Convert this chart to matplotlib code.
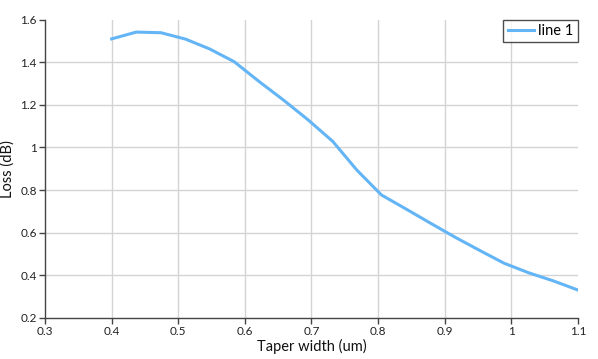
import matplotlib
matplotlib.use("Agg")
import matplotlib.pyplot as plt
from matplotlib.ticker import FuncFormatter

plt.rcParams['font.family'] = ['Lato', 'DejaVu Sans']

taper_width = [0.400, 0.437, 0.474, 0.511, 0.547, 0.584, 0.621, 0.658, 0.695, 0.732,
               0.768, 0.805, 0.842, 0.879, 0.916, 0.953, 0.989, 1.026, 1.063, 1.100]
loss_db = [1.509, 1.541, 1.538, 1.508, 1.462, 1.402, 1.310, 1.222, 1.129, 1.028,
           0.894, 0.777, 0.711, 0.644, 0.578, 0.516, 0.457, 0.412, 0.374, 0.331]
x_ticks = [0.3, 0.4, 0.5, 0.6, 0.7, 0.8, 0.9, 1.0, 1.1]
y_ticks = [0.2, 0.4, 0.6, 0.8, 1.0, 1.2, 1.4, 1.6]

fig = plt.figure(figsize=(5.98, 3.59), dpi=100)
ax = fig.add_axes([45/598, 1 - 318/359, (578-45)/598, (318-19.5)/359])

ax.plot(taper_width, loss_db, color='#64b5f6', lw=2.2, label='line 1', solid_joinstyle='miter', zorder=3)

ax.set_xlim(0.3, 1.1)
ax.set_ylim(0.2, 1.6)
ax.set_xticks(x_ticks)
ax.set_yticks(y_ticks)
fmt = FuncFormatter(lambda v, p: f"{v:g}")
ax.xaxis.set_major_formatter(fmt)
ax.yaxis.set_major_formatter(fmt)

for t in ax.get_xticks()[1:-1]:
    ax.axvline(t, color='#d4d4d4', lw=1, zorder=1)
for t in ax.get_yticks()[1:-1]:
    ax.axhline(t, color='#d4d4d4', lw=1, zorder=1)

for s in ['top', 'right']:
    ax.spines[s].set_visible(False)
for s in ['left', 'bottom']:
    ax.spines[s].set_color('#444444')
    ax.spines[s].set_linewidth(1)
ax.tick_params(axis='both', length=4, width=1, color='#444444', labelsize=8.5, pad=2, labelcolor='#222222')

ax.set_xlabel('Taper width (um)', fontsize=10.5, labelpad=1, color='#111111')
ax.set_ylabel('Loss (dB)', fontsize=10.5, labelpad=4, color='#111111')

leg = ax.legend(loc='upper right', bbox_to_anchor=(1.0, 1.0), fontsize=10.5, frameon=True,
                fancybox=False, edgecolor='#222222', handlelength=1.8, handletextpad=0.3,
                borderpad=0.3, borderaxespad=0.0)
leg.get_frame().set_linewidth(1)

fig.savefig('out.png', dpi=100)
